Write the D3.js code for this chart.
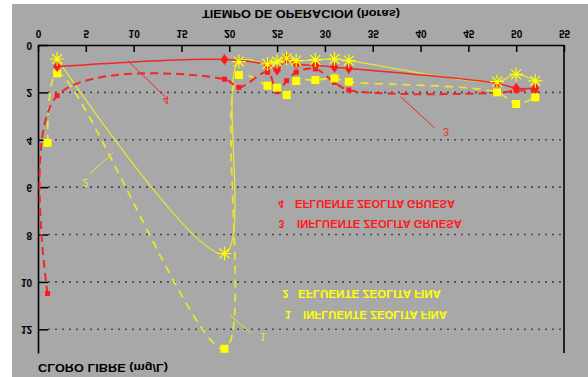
<!DOCTYPE html>
<html>
<head>
<meta charset="utf-8">
<script src="https://cdn.jsdelivr.net/npm/d3@7"></script>
<style>
  body { margin: 0; background: #ffffff; }
  svg { display: block; }
  text { font-family: "Liberation Sans", Arial, sans-serif; }
</style>
</head>
<body>
<svg id="chart" width="588" height="377"></svg>
<script>
// Operating time (hours) and free chlorine (mg/L) for each sampling series
const hoursInfluenteFina = [1, 2, 19.5, 21, 24, 25, 26, 27, 29, 31, 32.5, 48, 50, 52];
const influenteFina      = [4.13, 1.2, 12.82, 1.27, 1.72, 1.80, 2.11, 1.52, 1.48, 1.41, 1.55, 2.0, 2.49, 2.21];

const hoursEfluenteFina  = [2, 19.5, 21, 24, 25, 26, 27, 29, 31, 32.5, 48, 50, 52];
const efluenteFina       = [0.59, 8.8, 0.7, 0.8, 0.7, 0.56, 0.66, 0.63, 0.59, 0.66, 1.55, 1.24, 1.51];

const hoursInfluenteGruesa = [1, 2, 19.5, 21, 24, 25, 26, 27, 29, 31, 32.5, 48, 50, 52];
const influenteGruesa      = [10.49, 2.14, 1.44, 1.79, 1.15, 1.97, 1.51, 1.15, 1.01, 1.58, 1.90, 2.02, 1.92, 1.90];

const hoursEfluenteGruesa = [2, 19.5, 24, 25, 26, 27, 29, 31, 32.5, 48, 50, 52];
const efluenteGruesa      = [0.91, 0.61, 0.85, 1.06, 0.59, 0.80, 0.85, 0.94, 0.99, 1.62, 1.83, 1.83];

const xTicks = [0, 5, 10, 15, 20, 25, 30, 35, 40, 45, 50, 55];
const yTicks = [0, 2, 4, 6, 8, 10, 12];

const legendNumbers = ["4", "3", "2", "1"];
const legendLabels  = ["EFLUENTE ZEOLITA GRUESA", "INFLUENTE ZEOLITA GRUESA",
                       "EFLUENTE ZEOLITA FINA", "INFLUENTE ZEOLITA FINA"];

const RED = "#ff1a1a", YELLOW = "#ffff00";

const svg = d3.select("#chart");
svg.append("rect").attr("x", 12).attr("y", 4).attr("width", 576).attr("height", 373)
   .attr("fill", "#a8a8a8");

const xs = d3.scaleLinear().domain([0, 55]).range([38, 564]);
const ys = d3.scaleLinear().domain([0, 13]).range([45, 353]);

// every label on this page is drawn mirrored top-to-bottom
function flip(sel, x, y) {
  return sel.attr("transform", `translate(${x},${y}) scale(1,-1)`).attr("dy", "0.35em");
}
function flippedText(str, x, y, o = {}) {
  const t = svg.append("text").text(str)
    .attr("fill", o.fill || "#000")
    .attr("font-size", o.size || 10)
    .attr("font-weight", o.weight || "bold")
    .attr("text-anchor", o.anchor || "start");
  if (o.len) t.attr("textLength", o.len).attr("lengthAdjust", "spacingAndGlyphs");
  return flip(t, x, y);
}

// dotted grid
svg.append("g").selectAll("line").data(yTicks.filter(d => d > 0)).join("line")
  .attr("x1", 48).attr("x2", 562)
  .attr("y1", d => ys(d)).attr("y2", d => ys(d))
  .attr("stroke", "#4a4a4a").attr("stroke-width", 1.6).attr("stroke-dasharray", "2,5");

// time axis along the top
const gx = svg.append("g").attr("transform", `translate(0,${ys(0)})`)
  .call(d3.axisTop(xs).tickValues(xTicks).tickSize(-7).tickSizeOuter(0).tickPadding(0));
gx.select(".domain").attr("stroke", "#000").attr("stroke-width", 1.6);
gx.selectAll(".tick line").attr("stroke", "#000").attr("stroke-width", 1.5);
gx.selectAll(".tick text").attr("y", null)
  .attr("font-size", 10).attr("font-weight", "bold").attr("fill", "#000")
  .attr("font-family", "Liberation Sans, Arial, sans-serif")
  .each(function () { flip(d3.select(this), 0, -12); });

// chlorine axis on the left
const gy = svg.append("g").attr("transform", `translate(${xs(0)},0)`)
  .call(d3.axisLeft(ys).tickValues(yTicks).tickSize(-10).tickSizeOuter(0).tickPadding(6));
gy.select(".domain").attr("stroke", "#000").attr("stroke-width", 1.6);
gy.selectAll(".tick line").attr("stroke", "#000").attr("stroke-width", 1.5);
gy.selectAll(".tick text").attr("x", null)
  .attr("font-size", 10).attr("font-weight", "bold").attr("fill", "#000")
  .attr("font-family", "Liberation Sans, Arial, sans-serif")
  .each(function () { flip(d3.select(this), -6, 0); });

// right frame edge
svg.append("line").attr("x1", xs(55)).attr("x2", xs(55)).attr("y1", ys(0)).attr("y2", ys(13))
  .attr("stroke", "#000").attr("stroke-width", 1.6);

// axis titles
flippedText("TIEMPO DE OPERACION (horas)", 202, 13, { len: 198 });
flippedText("CLORO LIBRE (mg/L)", 38, 367, { len: 130 });

// curves
const zip = (xsArr, ysArr) => xsArr.map((h, i) => [h, ysArr[i]]);
const line = d3.line().x(d => xs(d[0])).y(d => ys(d[1])).curve(d3.curveCatmullRom.alpha(0.5));

const sInfF = zip(hoursInfluenteFina, influenteFina);
const sEflF = zip(hoursEfluenteFina, efluenteFina);
const sInfG = zip(hoursInfluenteGruesa, influenteGruesa);
const sEflG = zip(hoursEfluenteGruesa, efluenteGruesa);

svg.append("path").attr("d", line(sInfF)).attr("fill", "none")
  .attr("stroke", "#e6e632").attr("stroke-width", 1.8).attr("stroke-dasharray", "8,6");
svg.append("path").attr("d", line(sEflF)).attr("fill", "none")
  .attr("stroke", "#e6e632").attr("stroke-width", 1.3);
svg.append("path").attr("d", line(sInfG)).attr("fill", "none")
  .attr("stroke", "#f02828").attr("stroke-width", 2).attr("stroke-dasharray", "8,5");
svg.append("path").attr("d", line(sEflG)).attr("fill", "none")
  .attr("stroke", "#f02828").attr("stroke-width", 1.5);

// markers
svg.append("g").selectAll("rect").data(sInfG).join("rect")
  .attr("x", d => xs(d[0]) - 2.5).attr("y", d => ys(d[1]) - 2.5)
  .attr("width", 5).attr("height", 5).attr("fill", RED);
svg.append("g").selectAll("rect").data(sInfF).join("rect")
  .attr("x", d => xs(d[0]) - 4).attr("y", d => ys(d[1]) - 4)
  .attr("width", 8).attr("height", 8).attr("fill", YELLOW);
svg.append("g").selectAll("path").data(sEflG).join("path")
  .attr("transform", d => `translate(${xs(d[0])},${ys(d[1])})`)
  .attr("d", "M0,-5.5L4,0L0,5.5L-4,0Z").attr("fill", RED);
const starPath = d3.range(8).map(i => {
  const a = i * Math.PI / 4;
  return `M0,0L${(7 * Math.cos(a)).toFixed(2)},${(7 * Math.sin(a)).toFixed(2)}`;
}).join("");
svg.append("g").selectAll("path").data(sEflF).join("path")
  .attr("transform", d => `translate(${xs(d[0])},${ys(d[1])})`)
  .attr("d", starPath).attr("stroke", YELLOW).attr("stroke-width", 1.2).attr("fill", "none");

// curve callouts: leader line from curve to its number
const callouts = [
  { n: "4", color: "#f02828", from: [9.38, 0.66], to: [13.28, 2.18], at: [13.4, 2.3] },
  { n: "2", color: "#e6e632", from: [7.87, 4.55], to: [5.44, 5.42], at: [4.95, 5.8] },
  { n: "1", color: "#e6e632", from: [20.0, 11.37], to: [22.27, 12.17], at: [23.5, 12.33] },
  { n: "3", color: "#f02828", from: [37.92, 2.18], to: [41.51, 3.52], at: [42.66, 3.67] }
];
callouts.forEach(c => {
  svg.append("line")
    .attr("x1", xs(c.from[0])).attr("y1", ys(c.from[1]))
    .attr("x2", xs(c.to[0])).attr("y2", ys(c.to[1]))
    .attr("stroke", c.color).attr("stroke-width", 1);
  flippedText(c.n, xs(c.at[0]), ys(c.at[1]), { fill: c.color, weight: "normal", size: 11, anchor: "middle" });
});

// legend
const legendPos = [
  { nx: 281, lx: 295, y: 203, len: 160, color: RED },
  { nx: 281.5, lx: 297, y: 223, len: 165, color: RED },
  { nx: 285.5, lx: 298, y: 293, len: 143, color: YELLOW },
  { nx: 288, lx: 303, y: 314, len: 144, color: YELLOW }
];
legendNumbers.forEach((n, i) => {
  const p = legendPos[i];
  flippedText(n, p.nx, p.y, { fill: p.color, anchor: "middle" });
  flippedText(legendLabels[i], p.lx, p.y, { fill: p.color, len: p.len });
});
</script>
</body>
</html>
